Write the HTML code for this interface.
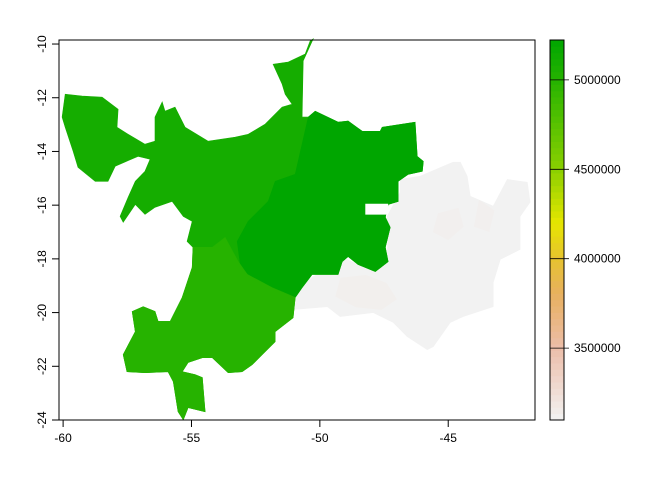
<!DOCTYPE html>
<html><head><meta charset="utf-8"><style>
body{margin:0;background:#fff}
svg{display:block;font-family:"Liberation Sans",sans-serif}
</style></head><body>
<svg id="c" width="672" height="480" xmlns="http://www.w3.org/2000/svg"></svg>
<script>
// ---- data ----
const xTicks = [-60, -55, -50, -45];
const yTicks = [-10, -12, -14, -16, -18, -20, -22, -24];
const legendTicks = [3500000, 4000000, 4500000, 5000000];
const regionNames = ["pale-east", "west-zone", "east-zone", "south-zone"];
const regionValues = [3100000, 5100000, 5223000, 5000000];
const paleEast = [[-51.04,-19.89],[-50.88,-19.14],[-50.26,-18.66],[-48.94,-18.02],[-48.16,-18.39],[-47.38,-18.02],[-47.34,-17.01],[-47.38,-16.42],[-46.87,-15.52],[-46.87,-15.04],[-46.09,-14.92],[-44.81,-14.40],[-44.53,-14.40],[-44.26,-14.92],[-44.14,-15.67],[-43.25,-16.04],[-42.70,-15.04],[-41.92,-15.15],[-41.81,-15.89],[-42.20,-16.42],[-42.20,-17.65],[-42.97,-18.02],[-43.25,-18.88],[-43.25,-19.78],[-44.42,-20.15],[-44.92,-20.37],[-45.58,-21.27],[-45.82,-21.38],[-46.60,-20.89],[-47.14,-20.37],[-47.92,-20.00],[-49.21,-20.15],[-49.71,-19.78]];
const westZone = [[-50.26,-9.81],[-50.65,-10.63],[-50.69,-12.72],[-50.45,-12.72],[-50.18,-12.50],[-49.29,-12.91],[-48.90,-12.87],[-48.35,-13.25],[-47.65,-13.25],[-47.57,-13.10],[-46.29,-12.91],[-46.21,-14.18],[-45.97,-14.37],[-46.01,-14.74],[-46.56,-14.85],[-46.95,-15.11],[-46.95,-15.86],[-47.34,-15.97],[-47.45,-16.45],[-47.26,-16.83],[-47.45,-17.57],[-47.34,-18.10],[-47.84,-18.47],[-48.51,-18.21],[-48.90,-17.91],[-49.13,-18.10],[-49.29,-18.58],[-50.30,-18.58],[-50.69,-19.07],[-50.96,-19.44],[-51.04,-20.19],[-51.74,-20.71],[-51.74,-21.08],[-52.25,-21.57],[-52.64,-21.94],[-53.03,-22.20],[-53.57,-22.24],[-54.19,-21.68],[-54.58,-21.68],[-55.13,-21.86],[-55.36,-22.20],[-54.86,-22.31],[-54.58,-22.42],[-54.47,-23.69],[-55.13,-23.54],[-55.32,-23.99],[-55.52,-23.69],[-55.71,-22.57],[-55.91,-22.20],[-56.81,-22.24],[-57.51,-22.20],[-57.66,-21.57],[-57.19,-20.71],[-57.31,-19.96],[-56.88,-19.78],[-56.42,-19.96],[-56.30,-20.33],[-55.83,-20.33],[-55.36,-19.44],[-54.97,-18.32],[-54.94,-17.57],[-55.17,-17.35],[-54.97,-16.60],[-55.32,-16.42],[-55.75,-15.86],[-56.42,-16.08],[-56.81,-16.34],[-57.19,-15.97],[-57.66,-16.64],[-57.78,-16.42],[-57.47,-15.71],[-57.19,-15.11],[-56.81,-14.74],[-56.61,-14.29],[-57.08,-14.18],[-57.97,-14.55],[-58.25,-15.11],[-58.75,-15.11],[-59.42,-14.59],[-59.61,-13.99],[-59.92,-13.10],[-60.04,-12.72],[-59.92,-11.87],[-59.26,-11.94],[-58.48,-11.98],[-57.86,-12.43],[-57.90,-13.10],[-57.47,-13.36],[-56.81,-13.73],[-56.42,-13.62],[-56.42,-12.72],[-56.14,-12.16],[-56.03,-12.50],[-55.64,-12.35],[-55.25,-13.10],[-54.35,-13.62],[-53.30,-13.47],[-52.79,-13.36],[-52.13,-12.98],[-51.47,-12.35],[-51.08,-12.24],[-51.35,-11.87],[-51.47,-11.49],[-51.82,-10.75],[-51.23,-10.67],[-50.57,-10.37],[-50.38,-9.89]];
const eastZone = [[-50.45,-12.72],[-50.18,-12.50],[-49.29,-12.91],[-48.90,-12.87],[-48.35,-13.25],[-47.65,-13.25],[-47.57,-13.10],[-46.29,-12.91],[-46.21,-14.18],[-45.97,-14.37],[-46.01,-14.74],[-46.56,-14.85],[-46.95,-15.11],[-46.95,-15.86],[-47.34,-15.97],[-47.45,-16.45],[-47.26,-16.83],[-47.45,-17.57],[-47.34,-18.10],[-47.84,-18.47],[-48.51,-18.21],[-48.90,-17.91],[-49.13,-18.10],[-49.29,-18.58],[-50.30,-18.58],[-50.69,-19.07],[-50.96,-19.44],[-51.86,-19.07],[-52.79,-18.58],[-53.10,-18.21],[-53.22,-17.35],[-52.79,-16.60],[-52.01,-15.86],[-51.74,-15.11],[-50.96,-14.85]];
const southZone = [[-54.94,-17.57],[-54.19,-17.57],[-53.69,-17.20],[-53.18,-18.10],[-52.83,-18.58],[-51.86,-19.07],[-50.96,-19.44],[-51.04,-20.19],[-51.74,-20.71],[-51.74,-21.08],[-52.25,-21.57],[-52.64,-21.94],[-53.03,-22.20],[-53.57,-22.24],[-54.19,-21.68],[-54.58,-21.68],[-55.13,-21.86],[-55.36,-22.20],[-54.86,-22.31],[-54.58,-22.42],[-54.47,-23.69],[-55.13,-23.54],[-55.32,-23.99],[-55.52,-23.69],[-55.71,-22.57],[-55.91,-22.20],[-56.81,-22.24],[-57.51,-22.20],[-57.66,-21.57],[-57.19,-20.71],[-57.31,-19.96],[-56.88,-19.78],[-56.42,-19.96],[-56.30,-20.33],[-55.83,-20.33],[-55.36,-19.44],[-54.97,-18.32]];
const holeBox = [[-48.23,-15.95],[-47.34,-15.95],[-47.34,-16.35],[-48.23,-16.35]];
const patchValues = [3125000, 3120000, 3120000];
const patch1 = [[-49.2,-18.7],[-48.2,-18.6],[-47.4,-18.9],[-47.0,-19.5],[-47.6,-19.9],[-48.6,-19.8],[-49.4,-19.4]];
const patch2 = [[-45.4,-16.3],[-44.6,-16.1],[-44.4,-16.8],[-45.0,-17.3],[-45.6,-17.0]];
const patch3 = [[-43.8,-15.8],[-43.2,-16.2],[-43.4,-17.0],[-44.0,-16.8]];
const regionPolys = [paleEast, westZone, eastZone, southZone];
const patchPolys = [patch1, patch2, patch3];

// ---- scales ----
const X0=59,X1=535,Y0=40,Y1=420;
const lonMin=-60.16,lonMax=-41.62,latMax=-9.85,latMin=-24.0;
const sx=v=>X0+(v-lonMin)/(lonMax-lonMin)*(X1-X0);
const sy=v=>Y0+(latMax-v)/(latMax-latMin)*(Y1-Y0);
const zMin=3098000,zMax=5223000;
const LY0=40,LY1=420;
const ly=v=>LY1-(v-zMin)/(zMax-zMin)*(LY1-LY0);
const stops=[[3098000,[242,242,242]],[3500000,[236,190,170]],[3800000,[232,176,96]],[4000000,[230,194,48]],[4200000,[230,230,0]],[4500000,[139,208,0]],[5000000,[38,179,0]],[5223000,[0,166,0]]];
function col(v){
  for(let i=0;i<stops.length-1;i++){
    const [a,ca]=stops[i],[b,cb]=stops[i+1];
    if(v<=b||i===stops.length-2){const t=Math.max(0,Math.min(1,(v-a)/(b-a)));
      return 'rgb('+ca.map((c,k)=>Math.round(c+(cb[k]-c)*t)).join(',')+')';}
  }
}
const NS='http://www.w3.org/2000/svg';
const svg=document.getElementById('c');
function mk(t,a,p){const e=document.createElementNS(NS,t);for(const k in a)e.setAttribute(k,a[k]);(p||svg).appendChild(e);return e;}
const pts=poly=>poly.map(p=>sx(p[0]).toFixed(1)+','+sy(p[1]).toFixed(1)).join(' ');

// regions
regionPolys.forEach((poly,i)=>{
  const e=mk('polygon',{points:pts(poly),fill:col(regionValues[i]),stroke:col(regionValues[i]),'stroke-width':0.6});
  
  
  if(i===0){
    patchPolys.forEach((pp,j)=>{
      const q=mk('polygon',{points:pts(pp),fill:col(patchValues[j])});
      
      
    });
  }
});
const hole=mk('polygon',{points:pts(holeBox),fill:'#fff'});



// frame
const fr=mk('rect',{x:X0,y:Y0,width:X1-X0,height:Y1-Y0,fill:'none',stroke:'#000','stroke-width':1});


xTicks.forEach(v=>{
  const x=sx(v);
  const t=mk('line',{x1:x,x2:x,y1:Y1,y2:Y1+7,stroke:'#000'});
  
  
  const l=mk('text',{x:x,y:Y1+22,'font-size':12,'text-anchor':'middle'});
  l.textContent=v;
  
  
});
yTicks.forEach(v=>{
  const y=sy(v);
  const t=mk('line',{x1:X0-7,x2:X0,y1:y,y2:y,stroke:'#000'});
  
  
  const l=mk('text',{x:0,y:0,'font-size':12,'text-anchor':'middle',transform:'translate('+(X0-13)+','+y+') rotate(-90)'});
  l.textContent=v;
  
  
});

// legend
const N=60;
for(let i=0;i<N;i++){
  const v0=zMin+(zMax-zMin)*i/N,v1=zMin+(zMax-zMin)*(i+1)/N;
  const r=mk('rect',{x:550,y:ly(v1),width:14,height:ly(v0)-ly(v1)+0.5,fill:col((v0+v1)/2)});
  
  
}
const lb=mk('rect',{x:550,y:LY0,width:14,height:LY1-LY0,fill:'none',stroke:'#000','stroke-width':1});


legendTicks.forEach(v=>{
  const y=ly(v);
  const t=mk('line',{x1:550,x2:569,y1:y,y2:y,stroke:'#000','stroke-width':0.8});
  
  
  const l=mk('text',{x:574,y:y+4,'font-size':12});
  l.textContent=v;
  
  
});
</script>
</body></html>
